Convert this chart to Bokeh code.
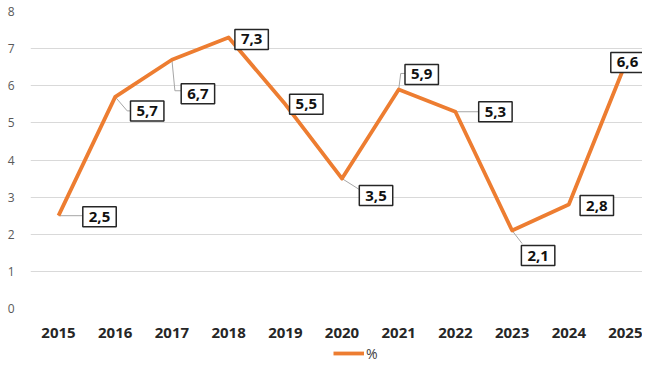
from bokeh.plotting import figure
from bokeh.layouts import column
from bokeh.models import ColumnDataSource, FixedTicker, Legend, LegendItem
from bokeh.core.properties import value
from bokeh.embed import file_html
from bokeh.resources import INLINE

years = [2015, 2016, 2017, 2018, 2019, 2020, 2021, 2022, 2023, 2024, 2025]
pct = [2.5, 5.7, 6.7, 7.3, 5.5, 3.5, 5.9, 5.3, 2.1, 2.8, 6.6]
labels = ["2,5", "5,7", "6,7", "7,3", "5,5", "3,5", "5,9", "5,3", "2,1", "2,8", "6,6"]
y_ticks = [0, 1, 2, 3, 4, 5, 6, 7, 8]
series_name = "%"

# label layout (screen pixel offsets, y down)
lab_dx = [41, 32, 26, 23, 21, 34, 23, 40, 26, 28, 2]
lab_dy = [1, 14, 34, 2, 0, 17, -15, 0, 25, 1, -1]
# leader polylines (screen pixel offsets from the point)
leaders = {
    0: [(0, 0), (25, 0)],
    1: [(0, 0), (12, 14), (17, 14)],
    2: [(0, 0), (3, 31), (11, 31)],
    5: [(0, 0), (19, 12)],
    6: [(0, 0), (2, -16), (9, -16)],
    7: [(0, 0), (25, 0)],
    8: [(0, 0), (10, 13)],
}

FONT = "Open Sans"
ORANGE = "#ED7D31"
W, H = 642, 340
LEFT, TOP, BOTTOM = 30, 11, 32
x0 = 2014.506
x1 = x0 + (W - LEFT) / 56.7
y0, y1 = 0, 8
fw = W - LEFT
fh = H - TOP - BOTTOM
px_x = fw / (x1 - x0)
px_y = fh / (y1 - y0)

p = figure(width=W, height=H, output_backend="svg", toolbar_location=None,
           x_range=(x0, x1), y_range=(y0, y1),
           min_border_left=LEFT, min_border_right=0, min_border_top=TOP,
           min_border_bottom=BOTTOM)
p.outline_line_color = None
p.background_fill_color = "white"
p.border_fill_color = "white"

p.xgrid.grid_line_color = None
p.ygrid.grid_line_color = "#d9d9d9"
p.ygrid.grid_line_width = 1
p.ygrid.ticker = FixedTicker(ticks=y_ticks)

p.yaxis.ticker = FixedTicker(ticks=y_ticks)
p.yaxis.axis_line_color = None
p.yaxis.major_tick_line_color = None
p.yaxis.minor_tick_line_color = None
p.yaxis.major_label_standoff = 10
p.yaxis.major_label_text_font = FONT
p.yaxis.major_label_text_font_size = "12px"
p.yaxis.major_label_text_color = "#595959"

p.xaxis.ticker = FixedTicker(ticks=years)
p.xaxis.axis_line_color = None
p.xaxis.major_tick_line_color = None
p.xaxis.minor_tick_line_color = None
p.xaxis.major_label_standoff = 13
p.xaxis.major_label_text_font = FONT
p.xaxis.major_label_text_font_size = "15px"
p.xaxis.major_label_text_font_style = "bold"
p.xaxis.major_label_text_color = "#262626"

# leader lines
for i, pts in leaders.items():
    xs = [years[i] + dx / px_x for dx, dy in pts]
    ys = [pct[i] - dy / px_y for dx, dy in pts]
    p.line(xs, ys, line_color="#a6a6a6", line_width=1)

src = ColumnDataSource(dict(x=years, y=pct, t=labels, dx=lab_dx, dy=lab_dy))
r = p.line("x", "y", source=src, line_color=ORANGE, line_width=3.8,
           line_join="round")

p.text("x", "y", text="t", source=src, x_offset="dx", y_offset="dy",
       text_align="center", text_baseline="middle",
       text_font=value(FONT), text_font_size="15px", text_font_style="bold",
       text_color="#111111",
       background_fill_color="white", border_line_color="#262626",
       border_line_width=1.5, padding=(6, 5))

# legend strip below the chart
pl = figure(width=W, height=25, output_backend="svg", toolbar_location=None,
            x_range=(0, 1), y_range=(0, 1),
            min_border_left=0, min_border_right=0, min_border_top=0,
            min_border_bottom=0)
pl.axis.visible = False
pl.grid.visible = False
pl.outline_line_color = None
rl = pl.line([-10, -9], [-10, -9], line_color=ORANGE, line_width=3.8)
legend = Legend(items=[LegendItem(label=series_name, renderers=[rl])],
                orientation="horizontal", location=(303, 2),
                border_line_color=None, background_fill_alpha=0,
                label_text_font=FONT, label_text_font_size="14px",
                label_text_color="#404040", glyph_width=31,
                margin=0, padding=2, label_standoff=2)
pl.add_layout(legend, "center")

layout = column(p, pl, spacing=0)
open("out.html", "w").write(file_html(layout, INLINE))
